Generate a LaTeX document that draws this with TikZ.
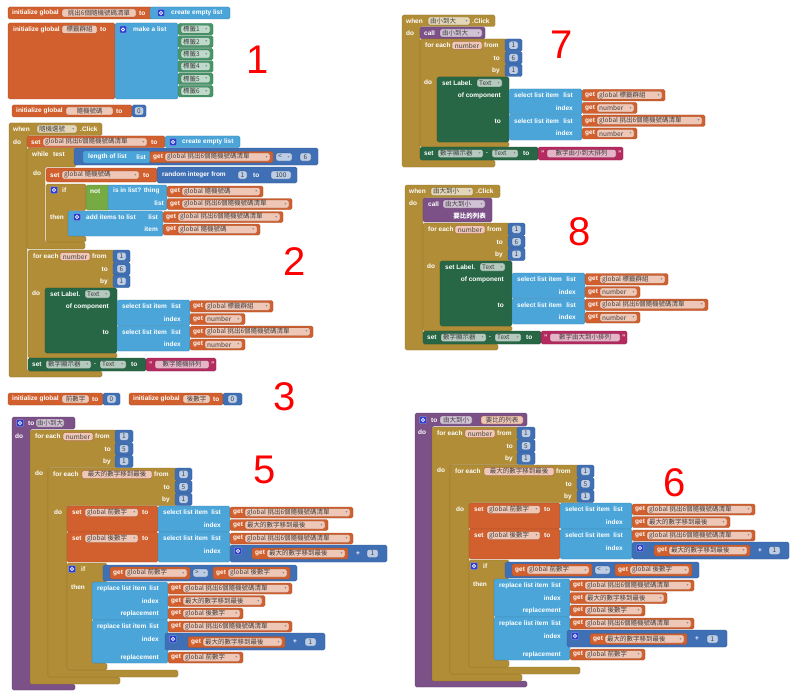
\documentclass[tikz,border=0pt]{standalone}
\usepackage{fontspec}
\setmainfont{Liberation Sans}
\newfontfamily\cjk{Noto Sans CJK TC}
\newfontfamily\sym{DejaVu Sans}
\usetikzlibrary{positioning,calc}

\definecolor{varc}{RGB}{209,96,46}
\definecolor{listc}{RGB}{75,165,217}
\definecolor{mathc}{RGB}{63,111,181}
\definecolor{ctrlc}{RGB}{177,141,55}
\definecolor{compc}{RGB}{40,103,69}
\definecolor{itemc}{RGB}{70,150,105}
\definecolor{procc}{RGB}{123,81,135}
\definecolor{textc}{RGB}{181,43,95}
\definecolor{logicc}{RGB}{118,170,66}
\definecolor{gearc}{RGB}{45,62,205}

\newcounter{nd}
% block bodies
\newcommand{\bk}[5]{\path[blk=#1] ({#2},{#3}) rectangle ({#4},{#5});}
\newcommand{\cb}[9]{\path[blk=#1] ({#2},{#3}) -- ({#4},{#3}) -- ({#4},{#5}) -- ({#6},{#5}) -- ({#6},{#7}) -- ({#8},{#7}) -- ({#8},{#9}) -- ({#2},{#9}) -- cycle;}
% white labels
\newcommand{\lbl}[3]{\node[lbl] at ({#1},{#2}) {#3};}
\newcommand{\lbr}[3]{\node[lbl, anchor=east] at ({#1},{#2}) {#3};}
% fields, with and without dropdown
\newcommand{\fdd}[5]{\path[fbox=#1] ({#2},{#4-4}) rectangle ({#3},{#4+4});
  \node[ftx] at ({#2+2},{#4}) {#5};
  \node[ddn] at ({#3-3.5},{#4}) {▾};}
\newcommand{\fpl}[5]{\path[fbox=#1] ({#2},{#4-4}) rectangle ({#3},{#4+4});
  \node[ftx, anchor=center] at ({(#2+#3)/2},{#4}) {#5};}
% small blocks
\newcommand{\getb}[5]{\bk{varc}{#1}{#2}{#3}{#4}
  \lbl{#1+3}{(#2+#4)/2}{get}
  \fdd{varc}{#1+15}{#3-3}{(#2+#4)/2}{#5}}
\newcommand{\numb}[5]{\bk{mathc}{#1}{#2}{#3}{#4}
  \fpl{mathc}{(#1+#3)/2-4.5}{(#1+#3)/2+4.5}{(#2+#4)/2}{#5}}
\newcommand{\gear}[2]{\node[gear] at ({#1},{#2}) {};}
\newcommand{\selb}[4]{\bk{listc}{#1}{#2}{#3}{#4}
  \lbl{#1+5}{#2+6.5}{select list item}
  \lbr{#3-9}{#2+6.5}{list}
  \lbr{#3-9}{#2+19}{index}}
\newcommand{\repb}[5]{\bk{listc}{#1}{#2}{#3}{#4}
  \lbl{#1+5}{#2+6.5}{replace list item}
  \lbr{#3-9}{#2+6.5}{list}
  \lbr{#3-9}{#2+19}{index}
  \lbr{#3-9}{#5}{replacement}}

% for each number -> set Label.Text, then set display text
\newcommand{\lloop}[2]{%
  \cb{ctrlc}{0}{0}{87}{38}{17}{103}{89}{108}
  \lbl{5}{6.5}{for each}
  \fpl{varc}{32}{62}{6.5}{number}
  \lbl{64}{6.5}{from}
  \lbr{80}{19}{to}
  \lbr{80}{31.5}{by}
  \numb{85}{0}{102}{12.5}{1}
  \numb{85}{12.5}{102}{25}{6}
  \numb{85}{25}{102}{37.5}{1}
  \lbl{4}{43.5}{do}
  \bk{compc}{17}{38}{89}{103}
  \lbl{22}{44}{set Label.}
  \fdd{compc}{57}{82}{44}{Text}
  \lbr{81}{56.5}{of component}
  \lbr{81}{82}{to}
  \selb{89}{50}{162}{75.5}
  \selb{89}{75.5}{162}{101}
  \getb{162}{50.5}{245}{62}{global 標籤群組}
  \getb{162}{63.5}{217}{74.5}{number}
  \getb{162}{76}{285}{87.5}{global 挑出6個隨機號碼清單}
  \getb{162}{89}{217}{100}{number}
  \bk{compc}{0}{108}{118}{121}
  \lbl{4}{114.5}{set}
  \fdd{compc}{18}{63}{114.5}{數字顯示器}
  \lbl{66}{114.5}{.}
  \fdd{compc}{72}{98}{114.5}{Text}
  \lbl{103}{114.5}{to}
  \bk{textc}{118}{108}{#2}{121}
  \lbl{121}{114.5}{"}
  \fpl{textc}{127}{#2-7}{114.5}{#1}
  \lbl{#2-5}{114.5}{"}}

% bubble sort body of the procedures
\newcommand{\sortbody}[1]{%
  \cb{ctrlc}{0}{0}{87}{37.5}{18}{247}{90}{254}
  \lbl{5}{6.5}{for each}
  \fpl{varc}{33}{63}{6.5}{number}
  \lbl{65}{6.5}{from}
  \lbr{81}{19}{to}
  \lbr{81}{31.5}{by}
  \numb{85}{0}{103}{12.5}{1}
  \numb{85}{12.5}{103}{25}{5}
  \numb{85}{25}{103}{37.5}{1}
  \lbl{5}{43}{do}
  \cb{ctrlc}{18}{38}{147}{75.5}{37}{240}{148}{247}
  \lbl{23}{44.5}{for each}
  \fpl{varc}{52}{122}{44.5}{最大的數字移到最後}
  \lbl{124}{44.5}{from}
  \lbr{140}{57}{to}
  \lbr{140}{69.5}{by}
  \numb{145}{38}{162}{50.5}{1}
  \numb{145}{50.5}{162}{63}{5}
  \numb{145}{63}{162}{75.5}{1}
  \lbl{24}{82}{do}
  \bk{varc}{37}{76}{128}{102}
  \bk{varc}{37}{102}{128}{132}
  \lbl{42}{82.5}{set}
  \fdd{varc}{55}{108}{82.5}{global 前數字}
  \lbl{112}{82.5}{to}
  \lbl{42}{108.5}{set}
  \fdd{varc}{55}{108}{108.5}{global 後數字}
  \lbl{112}{108.5}{to}
  \selb{128}{76}{200}{102}
  \selb{128}{102}{200}{132}
  \getb{200}{77}{323}{88}{global 挑出6個隨機號碼清單}
  \getb{200}{89.5}{298}{100.5}{最大的數字移到最後}
  \getb{200}{103}{323}{114}{global 挑出6個隨機號碼清單}
  \bk{mathc}{200}{115}{357}{132}
  \gear{208}{121}
  \getb{222}{118}{318}{129}{最大的數字移到最後}
  \lbl{326}{123.5}{+}
  \fpl{mathc}{337}{348}{123.5}{1}
  \cb{ctrlc}{37}{133}{77}{152}{62}{233}{77}{240}
  \gear{42}{139}
  \lbl{51}{139}{if}
  \lbl{41}{157}{then}
  \bk{mathc}{73}{135}{267}{151}
  \getb{80}{137}{160}{149}{global 前數字}
  \fdd{mathc}{163}{178}{143}{#1}
  \getb{183}{137}{260}{149}{global 後數字}
  \repb{62}{152}{138}{190}{183.5}
  \getb{138}{153}{262}{164}{global 挑出6個隨機號碼清單}
  \getb{138}{165.5}{235}{176.5}{最大的數字移到最後}
  \getb{138}{178}{213}{189}{global 後數字}
  \repb{62}{190}{138}{233}{227.5}
  \getb{138}{191}{262}{202}{global 挑出6個隨機號碼清單}
  \bk{mathc}{135}{203}{295}{220}
  \gear{143}{209}
  \getb{158}{206.5}{255}{217.5}{最大的數字移到最後}
  \lbl{263}{212}{+}
  \fpl{mathc}{275}{286}{212}{1}
  \getb{138}{222}{213}{233}{global 前數字}}

\begin{document}
\begin{tikzpicture}[x=1pt, y=-1pt,
    nm/.code={\stepcounter{nd}\pgfkeysalso{name=n\arabic{nd}}},
    blk/.style={fill=#1, draw=#1!80!black, line width=0.3pt, rounded corners=1.5pt},
    fbox/.style={fill=#1!35!white, draw=#1!70!black, line width=0.25pt, rounded corners=2pt},
    lbl/.style={nm, text=white, font=\fontsize{6.5}{7}\selectfont\bfseries, inner sep=0pt, anchor=west},
    ftx/.style={nm, text=black!75, font=\cjk\fontsize{6.5}{7}\selectfont, inner sep=0pt, anchor=west},
    ddn/.style={nm, text=black!45, font=\sym\fontsize{4}{4}\selectfont, inner sep=0pt},
    gear/.style={nm, fill=gearc, draw=white!60!gearc, line width=0.3pt, rounded corners=1pt,
      minimum size=7pt, inner sep=0pt,
      path picture={\draw[white, line width=0.7pt] (path picture bounding box.center) circle (1.7pt);}},
    secnum/.style={text=red, font=\fontsize{40}{40}\selectfont, inner sep=0pt}]
  \useasboundingbox[fill=white] (0,0) rectangle (800,698);

  % 1: global lists
  \bk{varc}{8}{7}{152}{19}
  \lbl{12}{13}{initialize global}
  \fpl{varc}{62}{136}{13}{挑出6個隨機號碼清單}
  \lbl{139}{13}{to}
  \bk{listc}{150}{7}{230}{19}
  \gear{161}{13}
  \lbl{171}{13}{create empty list}
  \bk{varc}{8}{23}{115}{99}
  \lbl{13}{29.5}{initialize global}
  \fpl{varc}{62}{97}{29.5}{標籤群組}
  \lbl{100}{29.5}{to}
  \bk{listc}{115}{23}{178}{99}
  \gear{123}{29.5}
  \lbl{133}{29.5}{make a list}
  \foreach \i in {1,...,6}{
    \bk{itemc}{178}{23.5+12.4*(\i-1)}{213}{35+12.4*(\i-1)}
    \fdd{itemc}{181}{210}{29.25+12.4*(\i-1)}{標籤\i}
  }
  \node[secnum] (s1) at (258,60) {1};

  % 2: random button
  \bk{varc}{12}{105}{132}{117}
  \lbl{16}{111}{initialize global}
  \fpl{varc}{66}{113}{111}{隨機號碼}
  \lbl{116}{111}{to}
  \numb{132}{105}{146}{117}{0}
  \cb{ctrlc}{9}{123}{102}{135.5}{27}{371}{102}{377}
  \lbl{13}{129}{when}
  \fdd{ctrlc}{37}{77}{129}{隨機選號}
  \lbl{80}{129}{.Click}
  \lbl{13}{142}{do}
  \bk{varc}{27}{136}{165}{147.5}
  \lbl{31}{142}{set}
  \fdd{varc}{43}{147}{142}{global 挑出6個隨機號碼清單}
  \lbl{151}{142}{to}
  \bk{listc}{165}{136}{240}{147.5}
  \gear{173}{142}
  \lbl{182}{142}{create empty list}
  \cb{ctrlc}{27}{148}{76}{167}{45}{242}{85}{249}
  \lbl{32}{154}{while}
  \lbl{53}{154}{test}
  \lbl{33}{173}{do}
  \bk{mathc}{74}{148}{318}{165}
  \bk{listc}{83}{151}{150}{163}
  \lbl{88}{157}{length of list}
  \lbr{146}{157}{list}
  \getb{150}{151.5}{273}{162.5}{global 挑出6個隨機號碼清單}
  \fdd{mathc}{276}{292}{157}{<}
  \fpl{mathc}{300}{311}{157}{6}
  \bk{varc}{46}{168}{157}{182}
  \lbl{50}{175}{set}
  \fdd{varc}{62}{139}{175}{global 隨機號碼}
  \lbl{143}{175}{to}
  \bk{mathc}{157}{167}{297}{183}
  \lbl{162}{175}{random integer from}
  \fpl{mathc}{238}{247}{175}{1}
  \lbl{253}{175}{to}
  \fpl{mathc}{271}{291}{175}{100}
  \cb{ctrlc}{46}{184}{86}{210.5}{68}{236}{86}{242}
  \gear{54}{190}
  \lbl{62}{190}{if}
  \lbl{50}{217}{then}
  \bk{logicc}{86}{185}{110}{210}
  \lbl{90}{191}{not}
  \bk{listc}{108}{185}{167}{210}
  \lbl{113}{191}{is in list? thing}
  \lbr{164}{203.5}{list}
  \getb{167}{186}{263}{197}{global 隨機號碼}
  \getb{167}{198.5}{292}{209.5}{global 挑出6個隨機號碼清單}
  \bk{listc}{68}{211}{163}{236}
  \gear{77}{217}
  \lbl{86}{217}{add items to list}
  \lbr{158}{217}{list}
  \lbr{158}{229.5}{item}
  \getb{163}{211.5}{283}{222.5}{global 挑出6個隨機號碼清單}
  \getb{163}{224}{260}{235}{global 隨機號碼}
  \begin{scope}[shift={(28,250)}]
    \lloop{數字隨機排列}{188}
  \end{scope}
  \node[secnum] (s2) at (295,262) {2};

  % 3: compare variables
  \bk{varc}{8}{393}{103}{405}
  \lbl{12}{399}{initialize global}
  \fpl{varc}{62}{89}{399}{前數字}
  \lbl{92}{399}{to}
  \numb{103}{393}{120}{405}{0}
  \bk{varc}{129}{393}{223}{405}
  \lbl{133}{399}{initialize global}
  \fpl{varc}{183}{210}{399}{後數字}
  \lbl{213}{399}{to}
  \numb{223}{393}{242}{405}{0}
  \node[secnum] (s3) at (285,397) {3};

  % 5: sort ascending
  \cb{procc}{12}{417}{75}{429}{30}{684}{75}{690}
  \gear{20}{423}
  \lbl{28}{423}{to}
  \fpl{procc}{36}{64}{423}{由小到大}
  \lbl{15}{436}{do}
  \begin{scope}[shift={(30,430)}]
    \sortbody{>}
  \end{scope}
  \node[secnum] (s5) at (265,470) {5};

  % 6: sort descending
  \cb{procc}{415}{413}{527}{426}{432}{681}{527}{687}
  \gear{423}{420}
  \lbl{431}{420}{to}
  \fpl{procc}{440}{472}{420}{由大到小}
  \fpl{varc}{481}{523}{420}{要比的列表}
  \lbl{418}{432}{do}
  \begin{scope}[shift={(432,427)}]
    \sortbody{<}
  \end{scope}
  \node[secnum] (s6) at (675,483) {6};

  % 7: ascending button
  \cb{ctrlc}{402}{15}{495}{26.5}{420}{160}{495}{167}
  \lbl{406}{21}{when}
  \fdd{ctrlc}{428}{470}{21}{由小到大}
  \lbl{472}{21}{.Click}
  \lbl{406}{33}{do}
  \bk{procc}{420}{27}{485}{39}
  \lbl{424}{33}{call}
  \fdd{procc}{440}{482}{33}{由小到大}
  \begin{scope}[shift={(420,39)}]
    \lloop{數字由小到大排列}{203}
  \end{scope}
  \node[secnum] (s7) at (562,45) {7};

  % 8: descending button
  \cb{ctrlc}{405}{185}{500}{197.5}{423}{344}{498}{350}
  \lbl{409}{191.5}{when}
  \fdd{ctrlc}{431}{473}{191.5}{由大到小}
  \lbl{476}{191.5}{.Click}
  \lbl{409}{203}{do}
  \bk{procc}{423}{198}{492}{222}
  \lbl{428}{204}{call}
  \fdd{procc}{443}{485}{204}{由大到小}
  \lbr{486}{216}{\cjk 要比的列表}
  \begin{scope}[shift={(423,223)}]
    \lloop{數字由大到小排列}{204}
  \end{scope}
  \node[secnum] (s8) at (580,232) {8};
\end{tikzpicture}
\end{document}
